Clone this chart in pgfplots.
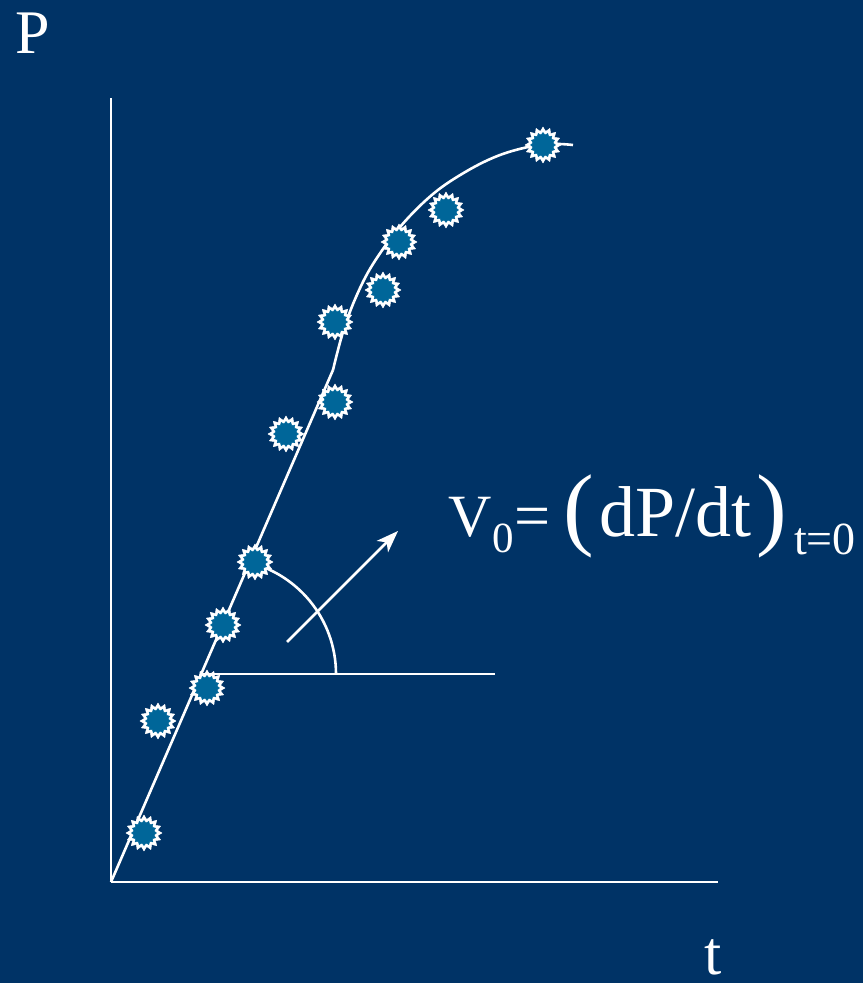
\documentclass[border=0pt]{standalone}
\usepackage{pgfplots}
\pgfplotsset{compat=1.18}
\usepackage{fontspec}
\setmainfont{Liberation Serif}
\usetikzlibrary{arrows.meta}
\definecolor{bg}{RGB}{0,51,102}
\definecolor{mk}{RGB}{0,102,153}
\pgfdeclareplotmark{burst}{%
  \fill[white] (0:18pt)
    \foreach \i [evaluate=\i as \r using {mod(\i,2)==0 ? 18 : 13.8}] in {1,...,31} { -- ({\i*11.25}:\r pt) } -- cycle;
  \fill[mk] (0:12.5pt)
    \foreach \i [evaluate=\i as \r using {mod(\i,2)==0 ? 12.5 : 10.2}] in {1,...,31} { -- ({\i*11.25}:\r pt) } -- cycle;
}
\begin{document}
\begin{tikzpicture}
\fill[bg] (-111pt,-101pt) rectangle (752pt,882pt);
\begin{axis}[
  x=1pt, y=1pt,
  xmin=0, xmax=607, ymin=0, ymax=784,
  axis lines=left,
  axis line style={white, line width=2.6pt, -},
  xtick=\empty, ytick=\empty,
  clip=false,
]
% fitted curve: initial straight part and saturation part
\addplot[white, line width=2.6pt] coordinates {(0,0) (222,512)};
\addplot[white, line width=2.6pt, smooth, tension=0.6] coordinates {
  (222,512) (232,550) (245,585) (262,618) (289,655) (322,688)
  (356,711) (389,727) (422,736) (445,738) (462,737)};
% data points
\addplot[only marks, mark=burst] coordinates {
  (33,49) (47,161) (96,194) (112,257) (144,320) (175,448)
  (224,480) (224,560) (272,592) (288,640) (335,672) (432,737)};
% tangent construction
\draw[white, line width=2.6pt] (axis cs:92,208) -- (axis cs:384,208);
\draw[white, line width=2.6pt] (axis cs:225,208) arc[start angle=0, end angle=79, radius=115pt];
\draw[white, line width=2.6pt, -{Stealth[length=22pt, width=16pt, inset=6pt]}] (axis cs:176,240) -- (axis cs:287,351);
% labels
\node[anchor=base west, inner sep=0pt, text=white, font=\fontsize{62}{62}\selectfont] at (axis cs:-96,828) {P};
\node[anchor=base west, inner sep=0pt, text=white, font=\fontsize{62}{62}\selectfont] at (axis cs:593,-92) {t};
\node[anchor=base west, inner sep=0pt, text=white, font=\fontsize{60}{60}\selectfont] at (axis cs:337,345) {V};
\node[anchor=base west, inner sep=0pt, text=white, font=\fontsize{43}{43}\selectfont] at (axis cs:381,329) {0};
\node[anchor=base west, inner sep=0pt, text=white, font=\fontsize{64}{64}\selectfont] at (axis cs:403,344) {=};
\node[anchor=base west, inner sep=0pt, text=white, font=\fontsize{92}{92}\selectfont] at (axis cs:452,343) {(};
\node[anchor=base west, inner sep=0pt, text=white, font=\fontsize{72}{72}\selectfont] at (axis cs:488,345) {dP/dt};
\node[anchor=base west, inner sep=0pt, text=white, font=\fontsize{92}{92}\selectfont] at (axis cs:645,343) {)};
\node[anchor=base west, inner sep=0pt, text=white, font=\fontsize{46}{46}\selectfont] at (axis cs:683,327) {t=0};
\end{axis}
\pgfresetboundingbox
\path (-111pt,-101pt) rectangle (752pt,882pt);
\end{tikzpicture}
\end{document}
